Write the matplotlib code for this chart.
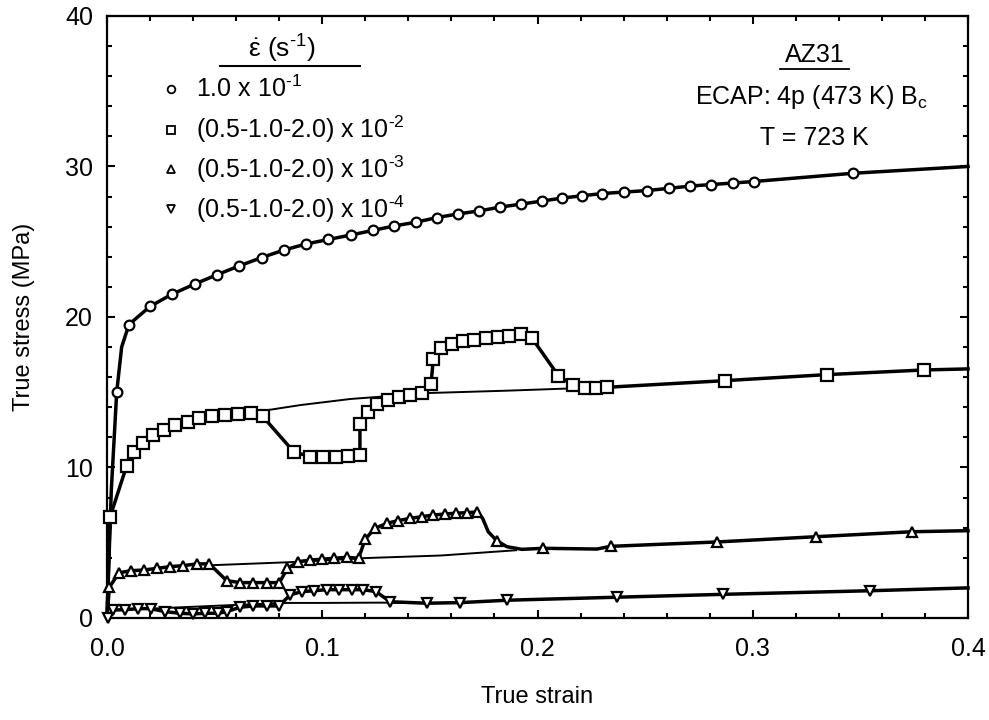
import numpy as np
import matplotlib
matplotlib.use('Agg')
import matplotlib.pyplot as plt

plt.rcParams['font.family'] = ['Liberation Sans', 'DejaVu Sans']
plt.rcParams['mathtext.fontset'] = 'custom'
plt.rcParams['mathtext.rm'] = 'Liberation Sans'
plt.rcParams['mathtext.it'] = 'Liberation Sans'
plt.rcParams['mathtext.bf'] = 'Liberation Sans:bold'

# 1.0e-1 s^-1 (circles)
c1_x = [0.0045, 0.0102, 0.0200, 0.0300, 0.0409, 0.0510, 0.0615, 0.0719, 0.0822, 0.0925,
        0.1028, 0.1134, 0.1234, 0.1335, 0.1436, 0.1531, 0.1632, 0.1730, 0.1826, 0.1923,
        0.2020, 0.2113, 0.2205, 0.2298, 0.2402, 0.2508, 0.2613, 0.2710, 0.2808, 0.2907,
        0.3004, 0.3466]
c1_y = [15.0, 19.5, 20.7, 21.5, 22.2, 22.8, 23.4, 23.95, 24.45, 24.85,
        25.15, 25.45, 25.75, 26.05, 26.3, 26.6, 26.85, 27.05, 27.3, 27.5,
        27.7, 27.9, 28.05, 28.2, 28.3, 28.4, 28.55, 28.7, 28.8, 28.9,
        29.0, 29.55]
c1_lx = [0.0, 0.002, 0.0068, 0.4]
c1_ly = [0.0, 8.5, 18.0, 30.0]

# (0.5-1.0-2.0)e-2 (squares)
c2_x = [0.0014, 0.0091, 0.0125, 0.0169, 0.0215, 0.0265, 0.0316, 0.0375, 0.0429, 0.0490,
        0.0550, 0.0607, 0.0668, 0.0723, 0.0867, 0.0943, 0.1002, 0.1064, 0.1121, 0.1175,
        0.1175, 0.1214, 0.1256, 0.1307, 0.1357, 0.1408, 0.1462, 0.1505, 0.1516, 0.1552,
        0.1604, 0.1655, 0.1706, 0.1761, 0.1815, 0.1869, 0.1922, 0.1973, 0.2097, 0.2163,
        0.2220, 0.2272, 0.2324, 0.2871, 0.3344, 0.3796]
c2_y = [6.7, 10.1, 11.05, 11.6, 12.15, 12.5, 12.8, 13.05, 13.27, 13.44,
        13.5, 13.55, 13.64, 13.4, 11.05, 10.72, 10.68, 10.72, 10.76, 10.81,
        12.9, 13.67, 14.22, 14.49, 14.7, 14.84, 14.97, 15.55, 17.2, 17.96,
        18.2, 18.39, 18.47, 18.58, 18.65, 18.76, 18.85, 18.62, 16.1, 15.48,
        15.28, 15.28, 15.33, 15.77, 16.17, 16.48]
c2_lx = [0.0, 0.4]
c2_ly = [0.0, 16.55]
c2_tx = [0.0668, 0.0900, 0.1130, 0.1500, 0.1850, 0.2150]
c2_ty = [13.64, 14.15, 14.55, 14.95, 15.1, 15.25]

# (0.5-1.0-2.0)e-3 (triangles up)
c3_x = [0.0011, 0.0055, 0.0110, 0.0172, 0.0234, 0.0293, 0.0355, 0.0416, 0.0475, 0.0556,
        0.0618, 0.0680, 0.0742, 0.0801, 0.0838, 0.0889, 0.0943, 0.0997, 0.1056, 0.1114,
        0.1169, 0.1199, 0.1245, 0.1300, 0.1353, 0.1408, 0.1462, 0.1516, 0.1570, 0.1621,
        0.1671, 0.1720, 0.1810, 0.2027, 0.2340, 0.2832, 0.3294, 0.3738]
c3_y = [2.04, 3.0, 3.14, 3.19, 3.30, 3.41, 3.48, 3.59, 3.6, 2.48,
        2.35, 2.35, 2.35, 2.35, 3.30, 3.74, 3.85, 3.90, 3.97, 4.03,
        3.97, 5.23, 5.96, 6.29, 6.47, 6.62, 6.73, 6.84, 6.91, 6.96,
        7.0, 7.04, 5.14, 4.63, 4.76, 5.05, 5.40, 5.73]
c3_lx = [0.0, 0.1745, 0.1771, 0.1857, 0.1927, 0.2275, 0.4]
c3_ly = [0.0, 6.62, 5.73, 4.74, 4.56, 4.58, 5.8]
c3_tx = [0.0475, 0.0838, 0.1199, 0.1550, 0.1900]
c3_ty = [3.5, 3.7, 3.98, 4.15, 4.5]

# (0.5-1.0-2.0)e-4 (triangles down)
c4_x = [0.0005, 0.0029, 0.0084, 0.0145, 0.0203, 0.0270, 0.0340, 0.0400, 0.0455, 0.0517,
        0.0556, 0.0618, 0.0680, 0.0742, 0.0800, 0.0850, 0.0904, 0.0962, 0.1020, 0.1080,
        0.1137, 0.1190, 0.1250, 0.1315, 0.1485, 0.1640, 0.1860, 0.2370, 0.2860, 0.3545]
c4_y = [0.0, 0.53, 0.55, 0.62, 0.62, 0.42, 0.31, 0.27, 0.31, 0.31,
        0.42, 0.71, 0.80, 0.80, 0.80, 1.53, 1.75, 1.81, 1.88, 1.88,
        1.88, 1.88, 1.75, 1.08, 0.98, 1.02, 1.18, 1.38, 1.57, 1.81]
c4_lx = [0.4]
c4_ly = [2.0]
c4_tx = [0.0203, 0.0585, 0.0835, 0.1000, 0.1270, 0.1400]
c4_ty = [0.62, 0.86, 1.0, 1.0, 1.02, 0.99]

legend_labels = [r'1.0 x 10$^{\text{-}1}$', r'(0.5-1.0-2.0) x 10$^{\text{-}2}$',
                 r'(0.5-1.0-2.0) x 10$^{\text{-}3}$', r'(0.5-1.0-2.0) x 10$^{\text{-}4}$']


def merge(mx, my, lx, ly):
    x = np.concatenate([mx, lx])
    y = np.concatenate([my, ly])
    order = np.argsort(x, kind='stable')
    return x[order], y[order]


fig = plt.figure(figsize=(9.89, 7.2), dpi=100)
ax = fig.add_axes([0.1082, 0.1417, 0.8706, 0.8361])

series = [(c1_x, c1_y, c1_lx, c1_ly, None, None, 'o', 7),
          (c2_x, c2_y, c2_lx, c2_ly, c2_tx, c2_ty, 's', 8),
          (c3_x, c3_y, c3_lx, c3_ly, c3_tx, c3_ty, '^', 7.5),
          (c4_x, c4_y, c4_lx, c4_ly, c4_tx, c4_ty, 'v', 7.5)]

for mx, my, lx, ly, tx, ty, mk, ms in series:
    if tx is not None:
        ax.plot(tx, ty, color='black', lw=1.4, zorder=2)
    x, y = merge(mx, my, lx, ly)
    ax.plot(x, y, color='black', lw=2.5, zorder=3, clip_on=False)
    ax.plot(mx, my, ls='none', marker=mk, ms=ms, mfc='white', mec='black',
            mew=1.6, zorder=4, clip_on=False)

ax.set_xlim(0, 0.4)
ax.set_ylim(0, 40)
ax.set_xticks([0.0, 0.1, 0.2, 0.3, 0.4])
ax.set_xticklabels(['0.0', '0.1', '0.2', '0.3', '0.4'])
ax.set_yticks([0, 10, 20, 30, 40])
ax.set_xticks(np.arange(0, 0.401, 0.02), minor=True)
ax.set_yticks(np.arange(0, 40.1, 2), minor=True)
ax.tick_params(which='both', direction='in', top=True, right=True, width=1.5)
ax.tick_params(which='major', length=6, labelsize=18)
ax.tick_params(axis='x', which='major', pad=14)
ax.tick_params(axis='y', which='major', pad=10)
ax.tick_params(which='minor', length=3.5)
for s in ax.spines.values():
    s.set_linewidth(1.6)

ax.set_xlabel('True strain', fontsize=17, labelpad=18)
ax.set_ylabel('True stress (MPa)', fontsize=17, labelpad=22)

# strain-rate key
ax.text(0.203, 0.945, r'$\dot{\varepsilon}$ (s$^{\text{-}1}$)', transform=ax.transAxes,
        fontsize=19, ha='center', va='center')
ax.plot([0.131, 0.294], [0.917, 0.917], color='black', lw=1.5,
        transform=ax.transAxes)
rows = [0.879, 0.811, 0.746, 0.679]
for (mx, my, lx, ly, tx, ty, mk, ms), lab, ry in zip(series, legend_labels, rows):
    ax.plot([0.074], [ry], ls='none', marker=mk, ms=5.5, mfc='white',
            mec='black', mew=1.3, transform=ax.transAxes)
    ax.text(0.103, ry, lab, transform=ax.transAxes, fontsize=18,
            ha='left', va='center')

# material / test conditions
ax.text(0.822, 0.936, 'AZ31', transform=ax.transAxes, fontsize=18,
        ha='center', va='center')
ax.plot([0.782, 0.862], [0.912, 0.912], color='black', lw=1.3,
        transform=ax.transAxes)
ax.text(0.818, 0.866, r'ECAP: 4p (473 K) B$_{\mathrm{c}}$', transform=ax.transAxes,
        fontsize=18, ha='center', va='center')
ax.text(0.821, 0.797, 'T = 723 K', transform=ax.transAxes, fontsize=18,
        ha='center', va='center')

fig.savefig('out.png', dpi=100)
